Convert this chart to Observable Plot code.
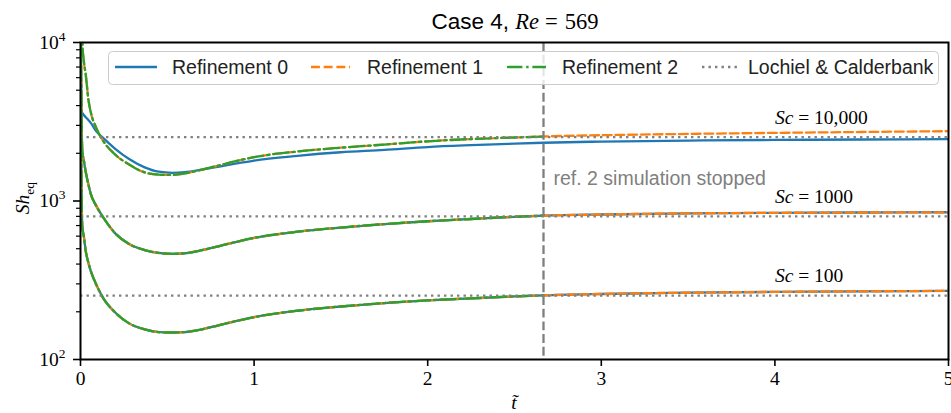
<!DOCTYPE html>
<html><head><meta charset="utf-8">
<script src="https://cdn.jsdelivr.net/npm/d3@7"></script>
<script src="https://cdn.jsdelivr.net/npm/@observablehq/plot@0.6"></script>
<style>body{margin:0;background:#fff} svg{display:block}</style>
</head><body><div id="chart"></div>
<script>
// ---- data ----
const t = [0.001, 0.01, 0.02, 0.03, 0.045, 0.06, 0.09, 0.13, 0.2, 0.28, 0.37, 0.45, 0.53, 0.6, 0.7, 0.8, 0.9, 1.0, 1.25, 1.5, 1.75, 2.0, 2.25, 2.5, 2.667, 3.0, 3.5, 4.0, 4.5, 5.0];
// Sc = 100 : refinements 0, 1, 2 coincide
const sc100 = [4700, 700, 590, 485, 410, 360, 298, 245, 198, 169, 155, 149, 148, 149, 155, 165, 175, 185, 203, 216, 227, 236, 243, 250, 254, 259, 264, 267, 269, 271];
// Sc = 1000 : refinements 0, 1, 2 coincide
const sc1000 = [15000, 2084, 1780, 1530, 1280, 1100, 935, 790, 625, 535, 490, 470, 464, 468, 490, 520, 553, 585, 640, 680, 715, 745, 770, 795, 808, 822, 835, 842, 846, 849];
// Sc = 10,000
const sc10000Ref0 = [3720, 3600, 3480, 3380, 3240, 3100, 2760, 2500, 2135, 1840, 1630, 1530, 1506, 1520, 1580, 1650, 1725, 1800, 1928, 2030, 2100, 2190, 2250, 2300, 2330, 2370, 2405, 2428, 2443, 2454];
const sc10000Ref12 = [40000, 10300, 7500, 6300, 4400, 3600, 2900, 2400, 1960, 1700, 1515, 1468, 1460, 1490, 1580, 1680, 1790, 1890, 2053, 2170, 2270, 2380, 2460, 2515, 2553, 2600, 2650, 2690, 2725, 2756];
const lochiel = [253, 800, 2530];
const scLabels = ["Sc = 100", "Sc = 1000", "Sc = 10,000"];
const tStop = 2.667;
const refNames = ["Refinement 0", "Refinement 1", "Refinement 2", "Lochiel & Calderbank"];
const xTicks = [0, 1, 2, 3, 4, 5];
const yTicks = [100, 1000, 10000];

// ---- build table ----
const rows = [];
function add(ref, sc, vals, tmax = Infinity) {
  t.forEach((tt, i) => { if (tt <= tmax + 1e-9) rows.push({t: tt, sh: vals[i], ref, sc}); });
}
add(0, 100, sc100); add(0, 1000, sc1000); add(0, 10000, sc10000Ref0);
add(1, 100, sc100); add(1, 1000, sc1000); add(1, 10000, sc10000Ref12);
add(2, 100, sc100, tStop); add(2, 1000, sc1000, tStop); add(2, 10000, sc10000Ref12, tStop);

const minor = [];
for (const dec of [100, 1000]) for (let k = 2; k <= 9; k++) minor.push(k * dec);

const SANS = "'Liberation Sans', Arial, Helvetica, sans-serif";
const SERIF = "'Liberation Serif', 'Times New Roman', serif";
const FS = 19.5;
const C = ["#1f77b4", "#ff7f0e", "#2ca02c", "#808080"];
const DASH = [null, "8.9,3.8", "15.4,3.8,2.4,3.8", "2.4,4.1"];
const LW = 2.3;

const lineOpts = (k) => ({x: "t", y: "sh", z: "sc", stroke: C[k], strokeWidth: LW,
  strokeDasharray: DASH[k], curve: "monotone-x", clip: true});

const plot = Plot.plot({
  width: 951, height: 413,
  marginLeft: 80, marginRight: 3, marginTop: 42, marginBottom: 54,
  style: {background: "#fff", fontFamily: SERIF, color: "#000"},
  x: {domain: [0, 5]},
  y: {type: "log", domain: [100, 10000]},
  marks: [
    Plot.axisY(minor, {tickSize: 4, text: null, strokeWidth: 1.2, label: null}),
    Plot.axisY(yTicks, {tickSize: 7, tickPadding: 8, fontSize: FS, fontFamily: SERIF,
      tickFormat: d => "10^" + Math.round(Math.log10(d)), strokeWidth: 1.6, label: null}),
    Plot.axisX(xTicks, {tickSize: 7, tickPadding: 5, fontSize: FS, fontFamily: SERIF,
      tickFormat: d => String(d), strokeWidth: 1.6, label: null}),
    Plot.line(rows.filter(d => d.ref === 0), lineOpts(0)),
    Plot.line(rows.filter(d => d.ref === 1), lineOpts(1)),
    Plot.line(rows.filter(d => d.ref === 2), lineOpts(2)),
    Plot.ruleY(lochiel, {stroke: C[3], strokeWidth: LW, strokeDasharray: DASH[3]}),
    Plot.ruleX([tStop], {stroke: "#7f7f7f", strokeWidth: LW, strokeDasharray: "8.9,3.8"}),
    Plot.text(["ref. 2 simulation stopped"], {x: tStop, y: 1253, dx: 10, text: d => d,
      textAnchor: "start", lineAnchor: "bottom", fill: "#808080", fontSize: FS, fontFamily: SANS}),
    Plot.text(lochiel, {x: 4.0, y: d => d, dy: -13.5, text: (d, i) => scLabels[i],
      textAnchor: "start", lineAnchor: "bottom", fill: "#000", fontSize: FS, fontFamily: SERIF}),
    Plot.frame({stroke: "#000", strokeWidth: 2})
  ]
});

document.getElementById("chart").appendChild(plot);
const svg = d3.select(plot);

// superscripts for y tick labels
svg.selectAll('text').filter(function () { return /^10\^\d$/.test(this.textContent); }).each(function () {
  const s = this.textContent; const [b, e] = s.split("^");
  const el = d3.select(this); el.text(null);
  el.append("tspan").text(b);
  el.append("tspan").attr("dy", "-8").attr("font-size", 13.5).text(e);
});
// italic "Sc" in labels
svg.selectAll('text').filter(function () { return this.textContent.startsWith("Sc ="); }).each(function () {
  const s = this.textContent; const rest = s.slice(2);
  const el = d3.select(this); el.text(null);
  el.append("tspan").attr("font-style", "italic").text("Sc");
  el.append("tspan").text(rest);
});

// title
const title = svg.append("text").attr("x", 515).attr("y", 29).attr("text-anchor", "middle")
  .attr("font-size", 22.5).attr("fill", "#000");
title.append("tspan").attr("font-family", SANS).text("Case 4,\u00a0");
title.append("tspan").attr("font-family", SERIF).attr("font-style", "italic").text("Re");
title.append("tspan").attr("font-family", SERIF).attr("dx", 6).text("=");
title.append("tspan").attr("font-family", SERIF).attr("dx", 7).text("569");

// y label
const yl = svg.append("text").attr("transform", "translate(29,198) rotate(-90)")
  .attr("text-anchor", "middle").attr("font-family", SERIF).attr("font-size", FS).attr("fill", "#000");
yl.append("tspan").attr("font-style", "italic").text("Sh");
yl.append("tspan").attr("dy", 5).attr("font-size", 13.5).text("eq");

// x label
svg.append("text").attr("x", 514).attr("y", 409).attr("text-anchor", "middle")
  .attr("font-family", SERIF).attr("font-style", "italic").attr("font-size", FS).attr("fill", "#000")
  .text("t\u0303");

// legend
const lg = svg.append("g").attr("text-anchor", "start");
lg.append("rect").attr("x", 108.5).attr("y", 51.5).attr("width", 830).attr("height", 33).attr("rx", 4)
  .attr("fill", "#fff").attr("fill-opacity", 0.8).attr("stroke", "#cccccc").attr("stroke-width", 1);
const items = [[115, 157, 172], [311, 350, 367], [507, 546, 562], [702, 740, 748]];
items.forEach(([a, b, tx], k) => {
  lg.append("line").attr("x1", a).attr("x2", b).attr("y1", 67).attr("y2", 67)
    .attr("stroke", C[k]).attr("stroke-width", LW).attr("stroke-dasharray", DASH[k]);
  lg.append("text").attr("x", tx).attr("y", 74).attr("text-anchor", "start")
    .attr("font-family", SANS).attr("font-size", FS).attr("fill", "#222").text(refNames[k]);
});
</script>
</body></html>
